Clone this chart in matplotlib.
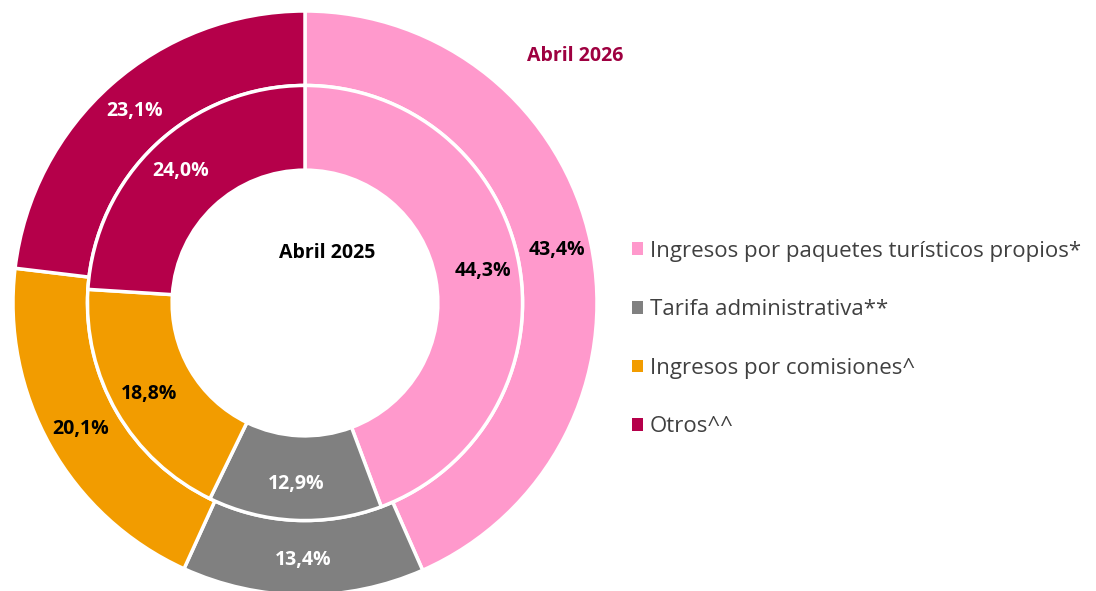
import matplotlib
matplotlib.use('Agg')
import matplotlib.pyplot as plt
from matplotlib import font_manager as fm
from matplotlib.patches import Patch
import numpy as np

# datos (% del total de ingresos)
categorias = ['Ingresos por paquetes turísticos propios*', 'Tarifa administrativa**',
              'Ingresos por comisiones^', 'Otros^^']
abril_2026 = [43.4, 13.4, 20.1, 23.1]
abril_2025 = [44.3, 12.9, 18.8, 24.0]

colores = ['#FF99CC', '#808080', '#F29C00', '#B5004A']
color_etiqueta = ['black', 'white', 'black', 'white']

plt.rcParams['font.family'] = ['Open Sans', 'DejaVu Sans']

# Open Sans Bold (archivo estático) para las etiquetas en negrita
ruta_bold = [f.fname for f in fm.fontManager.ttflist if f.fname.endswith('OpenSans-Bold.ttf')]
if ruta_bold:
    fp_bold = fm.FontProperties(fname=ruta_bold[0], size=14)
else:
    fp_bold = fm.FontProperties(family='Liberation Sans', weight='bold', size=14)

fig = plt.figure(figsize=(10.96, 5.91), dpi=100)
W, H = 1096, 591
cx, cy, R = 305, 303, 292
ax = fig.add_axes([(cx - R) / W, (H - cy - R) / H, 2 * R / W, 2 * R / H])

borde = dict(edgecolor='white', linewidth=2.5)

ext, _ = ax.pie(abril_2026, radius=1.0, colors=colores, startangle=90,
                counterclock=False, wedgeprops=dict(width=0.255, **borde))
inn, _ = ax.pie(abril_2025, radius=0.745, colors=colores, startangle=90,
                counterclock=False, wedgeprops=dict(width=0.29, **borde))


def etiquetas(valores, r):
    total = sum(valores)
    acum = 0
    for v, c in zip(valores, color_etiqueta):
        medio = acum + v / 2
        ang = np.deg2rad(90 - 360 * medio / total)
        ax.text(r * np.cos(ang), r * np.sin(ang), f'{v:.1f}%'.replace('.', ','),
                ha='center', va='center', fontproperties=fp_bold, color=c)
        acum += v

etiquetas(abril_2026, 0.88)
etiquetas(abril_2025, 0.62)

ax.set_xlim(-1, 1)
ax.set_ylim(-1, 1)
ax.set_aspect('equal')
ax.axis('off')

fig.text(575 / W, 1 - 56 / H, 'Abril 2026', ha='center', va='center',
         fontproperties=fp_bold, color='#9E0040')
fig.text(327 / W, 1 - 253 / H, 'Abril 2025', ha='center', va='center',
         fontproperties=fp_bold, color='black')

manijas = [Patch(facecolor=c, edgecolor='none') for c in colores]
fig.legend(manijas, categorias, loc='center left', bbox_to_anchor=(612 / W, 1 - 339 / H),
           frameon=False, fontsize=16, labelcolor='#404040',
           handlelength=0.5, handleheight=0.5, handletextpad=0.3,
           labelspacing=1.69)

fig.savefig('out.png', dpi=100)
